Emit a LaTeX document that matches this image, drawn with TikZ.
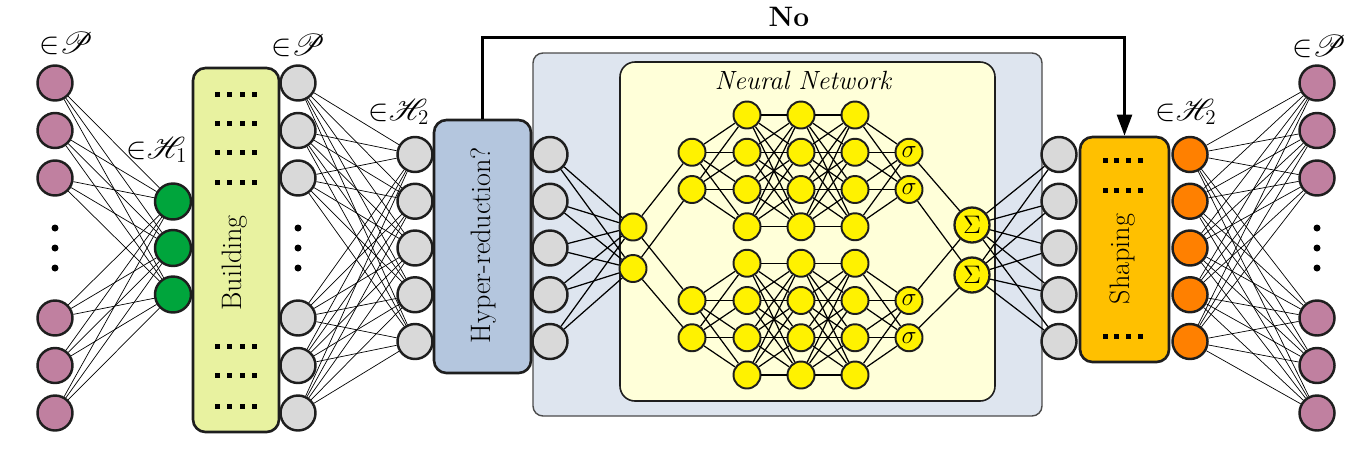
\documentclass[tikz,border=0pt]{standalone}
\usepackage{fontspec}
\usepackage{amsmath,amssymb}
\usepackage{mathrsfs}
\usepackage{xcolor}
\usepackage{tikz}
\usetikzlibrary{arrows.meta,positioning,calc}

\definecolor{mauve}{RGB}{192,128,160}
\definecolor{leafgreen}{RGB}{0,165,60}
\definecolor{cellgray}{RGB}{217,217,217}
\definecolor{buildfill}{RGB}{232,242,160}
\definecolor{hyperfill}{RGB}{180,198,222}
\definecolor{outerfill}{RGB}{222,229,239}
\definecolor{innerfill}{RGB}{255,255,217}
\definecolor{shapefill}{RGB}{255,192,0}
\definecolor{orangecell}{RGB}{255,128,0}
\definecolor{edge}{RGB}{30,30,30}

\begin{document}
\begin{tikzpicture}[
    cell/.style={circle, draw=edge, line width=1.4pt, minimum size=0.70cm, inner sep=0pt},
    neuron/.style={circle, draw=edge, line width=1.1pt, fill=yellow, minimum size=0.54cm, inner sep=0pt},
    wire/.style={black, line width=0.4pt},
    nnwire/.style={black, line width=0.7pt},
    block/.style={draw=edge, line width=1.5pt, rounded corners=0.25cm, inner sep=0pt},
    blocktext/.style={rotate=90, inner sep=0pt, font=\fontsize{16}{19}\selectfont},
    setlabel/.style={inner sep=0pt, font=\fontsize{17.28}{20}\selectfont}
]
    \useasboundingbox (0,0) rectangle (27.22,-9.08);

    % Boxes
    \node[draw=edge!80, line width=0.8pt, fill=outerfill, rounded corners=0.2cm,
          minimum width=10.18cm, minimum height=7.26cm] (outer) at (15.75,-4.69) {};
    \node[draw=edge, line width=0.9pt, fill=innerfill, rounded corners=0.3cm,
          minimum width=7.50cm, minimum height=6.78cm] (inner) at (16.15,-4.63) {};
    \node[font=\fontsize{15}{18}\selectfont\itshape] (nntitle) at (16.06,-1.60) {Neural Network};

    \node[block, fill=buildfill, minimum width=1.72cm, minimum height=7.28cm] (build) at (4.72,-5.00) {};
    \node[block, fill=hyperfill, minimum width=1.94cm, minimum height=5.06cm] (hyper) at (9.65,-4.93) {};
    \node[block, fill=shapefill, minimum width=1.78cm, minimum height=4.50cm] (shape) at (22.49,-4.99) {};
    \node[blocktext] (buildtxt) at (4.70,-5.26) {Building};
    \node[blocktext] (hypertxt) at (9.66,-4.90) {Hyper-reduction?};
    \node[blocktext] (shapetxt) at (22.46,-5.18) {Shaping};

    % Square dots inside the blocks
    \foreach \y in {1.88,2.46,3.04,3.64,6.92,7.50,8.12}
        \foreach \k in {0,...,3}
            \fill (4.305+0.243*\k,-\y-0.05) rectangle ++(0.1,0.1);
    \foreach \y in {3.21,3.80,6.73}
        \foreach \k in {0,...,3}
            \fill (22.05+0.237*\k,-\y-0.05) rectangle ++(0.1,0.1);

    % Six-cell columns
    \foreach \y [count=\i] in {1.66,2.61,3.56,6.36,7.31,8.26} {
        \node[cell, fill=mauve] (pin\i) at (1.10,-\y) {};
        \node[cell, fill=cellgray] (pb\i) at (5.96,-\y) {};
        \node[cell, fill=mauve] (pout\i) at (26.34,-\y) {};
    }
    \foreach \y in {4.56,4.96,5.36} {
        \fill (1.10,-\y) circle (0.07);
        \fill (5.96,-\y) circle (0.07);
        \fill (26.34,-\y) circle (0.07);
    }

    % Green column
    \foreach \y [count=\i] in {4.03,4.96,5.89}
        \node[cell, fill=leafgreen, minimum size=0.72cm] (h\i) at (3.46,-\y) {};

    % Five-cell columns
    \foreach \y [count=\i] in {3.09,4.025,4.96,5.895,6.83} {
        \node[cell, fill=cellgray] (ha\i) at (8.30,-\y) {};
        \node[cell, fill=cellgray] (hb\i) at (11.00,-\y) {};
        \node[cell, fill=cellgray] (hc\i) at (21.18,-\y) {};
        \node[cell, fill=orangecell] (ho\i) at (23.80,-\y) {};
    }

    % Set labels
    \node[setlabel] (lp1) at (1.32,-0.86) {${\in}\mathscr{P}$};
    \node[setlabel] (lh1) at (3.14,-3.00) {${\in}\mathscr{H}_1$};
    \node[setlabel] (lp2) at (5.96,-0.90) {${\in}\mathscr{P}$};
    \node[setlabel] (lh2) at (7.98,-2.24) {${\in}\mathscr{H}_2$};
    \node[setlabel] (lh3) at (23.72,-2.24) {${\in}\mathscr{H}_2$};
    \node[setlabel] (lp3) at (26.38,-0.93) {${\in}\mathscr{P}$};

    % Neural network
    \node[neuron] (in1) at (12.66,-4.54) {};
    \node[neuron] (in2) at (12.66,-5.37) {};
    \foreach \y [count=\i] in {3.045,3.79,6.01,6.755}
        \node[neuron] (a\i) at (13.84,-\y) {};
    \foreach \x/\l in {14.94/b,16.02/c,17.10/d}
        \foreach \y [count=\i] in {2.30,3.045,3.79,4.535,5.265,6.01,6.755,7.50}
            \node[neuron] (\l\i) at (\x,-\y) {};
    \foreach \y [count=\i] in {3.045,3.79,6.01,6.755}
        \node[neuron, font=\fontsize{14.4}{17}\selectfont] (s\i) at (18.18,-\y) {$\sigma$};
    \node[neuron, minimum size=0.70cm, line width=1.3pt, font=\fontsize{14.4}{17}\selectfont] (sum1) at (19.44,-4.50) {$\Sigma$};
    \node[neuron, minimum size=0.70cm, line width=1.3pt, font=\fontsize{14.4}{17}\selectfont] (sum2) at (19.44,-5.50) {$\Sigma$};

    \foreach \i in {1,2} {
        \draw[nnwire] (in\i) -- (a\i);
        \pgfmathtruncatemacro{\j}{\i+2}
        \draw[nnwire] (in\i) -- (a\j);
    }
    \foreach \i in {1,2}
        \foreach \j in {1,...,4} {
            \pgfmathtruncatemacro{\p}{\i+2}
            \pgfmathtruncatemacro{\q}{\j+4}
            \draw[nnwire] (a\i) -- (b\j);
            \draw[nnwire] (a\p) -- (b\q);
        }
    \foreach \l/\r in {b/c,c/d}
        \foreach \i in {1,...,4}
            \foreach \j in {1,...,4} {
                \pgfmathtruncatemacro{\p}{\i+4}
                \pgfmathtruncatemacro{\q}{\j+4}
                \draw[nnwire] (\l\i) -- (\r\j);
                \draw[nnwire] (\l\p) -- (\r\q);
            }
    \foreach \i in {1,...,4}
        \foreach \j in {1,2} {
            \pgfmathtruncatemacro{\p}{\i+4}
            \pgfmathtruncatemacro{\q}{\j+2}
            \draw[nnwire] (d\i) -- (s\j);
            \draw[nnwire] (d\p) -- (s\q);
        }
    \draw[nnwire] (s1) -- (sum1);
    \draw[nnwire] (s2) -- (sum2);
    \draw[nnwire] (s3) -- (sum1);
    \draw[nnwire] (s4) -- (sum2);
    \foreach \i in {1,...,5} {
        \draw[nnwire] (hb\i) -- (in1);
        \draw[nnwire] (hb\i) -- (in2);
        \draw[nnwire] (sum1) -- (hc\i);
        \draw[nnwire] (sum2) -- (hc\i);
    }

    % Outer wiring
    \foreach \i in {1,...,6} {
        \foreach \j in {1,2,3}
            \draw[wire] (pin\i) -- (h\j);
        \foreach \j in {1,...,5} {
            \draw[wire] (pb\i) -- (ha\j);
            \draw[wire] (ho\j) -- (pout\i);
        }
    }

    % Bypass
    \draw[line width=1.6pt, -{Triangle[length=12pt,width=8.5pt]}] (hyper.north) -- ++(0,1.63) -| (shape.north);
    \node[font=\fontsize{16}{19}\selectfont\bfseries] (no) at (15.78,-0.34) {No};
\end{tikzpicture}
\end{document}
